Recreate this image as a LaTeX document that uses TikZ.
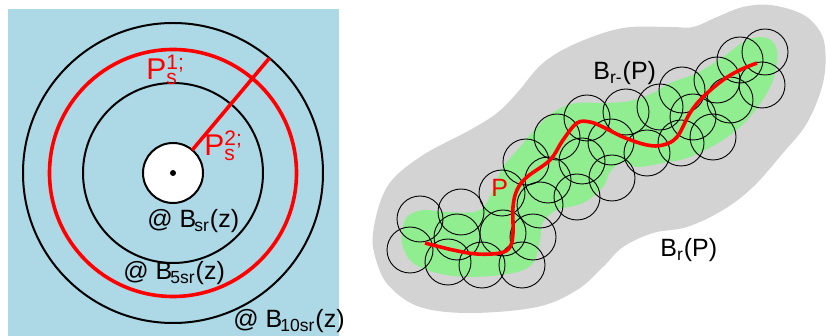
\documentclass[tikz,border=0pt]{standalone}
\usepackage{fontspec}
\setmainfont{Liberation Sans}
\definecolor{skyback}{HTML}{ADD8E6}
\definecolor{hullgray}{HTML}{D3D3D3}
\definecolor{tubegreen}{HTML}{90EE90}

\begin{document}
\begin{tikzpicture}[x={(0.5pt,0)},y={(0,-0.5pt)},
  ring/.style={draw=black,line width=1pt},
  redring/.style={draw=red,line width=1.8pt},
  ball/.style={draw=black,line width=0.45pt},
  lab/.style={font=\fontsize{12.5}{15}\selectfont,inner sep=0pt,anchor=base west},
  redlab/.style={lab,text=red},
  bigredlab/.style={redlab,font=\fontsize{15}{18}\selectfont}]
\useasboundingbox (0,0) rectangle (826,336);
\fill[skyback] (8,9) rectangle (339,336);
\coordinate (z) at (173,173);
\draw[ring] (z) circle[radius=75pt];
\draw[redring] (z) circle[radius=61.75pt];
\draw[ring] (z) circle[radius=45pt];
\draw[ring,fill=white] (z) circle[radius=15pt];
\fill (z) circle[radius=1.5pt];
\coordinate (s0) at ([shift={(50:15pt)}]z);
\coordinate (s1) at ([shift={(50:75pt)}]z);
\draw[red,line width=1.8pt] (s0) -- (s1);
\node[bigredlab] (ps1) at (146,80) {P\rlap{\textsuperscript{1;}}\textsubscript{s}};
\node[bigredlab] (ps2) at (204,156) {P\rlap{\textsuperscript{2;}}\textsubscript{s}};
\node[lab] (bsr) at (147,228) {@ B\kern-1pt\textsubscript{sr}(z)};
\node[lab] (b5sr) at (123,280) {@ B\kern-1pt\textsubscript{5sr}(z)};
\node[lab] (b10sr) at (233,328) {@ B\kern-1pt\textsubscript{10sr}(z)};

\fill[hullgray] plot[smooth cycle,tension=0.6] coordinates {(373,233) (387,187) (420,157) (470,130) (497,113) (517,93) (543,63) (577,43) (623,28) (670,27) (693,27) (717,17) (743,7) (770,5) (800,13) (817,27) (825,47) (823,83) (807,123) (783,153) (753,187) (723,210) (687,227) (653,233) (623,247) (603,267) (577,290) (537,307) (470,313) (420,307) (390,287) (377,263)};
\fill[tubegreen] plot[smooth cycle,tension=0.6] coordinates {(402,233) (407,217) (423,210) (447,212) (480,210) (495,185) (503,167) (520,147) (537,127) (557,110) (577,103) (603,103) (630,101) (653,93) (670,83) (697,73) (723,57) (747,40) (767,38) (777,50) (775,73) (767,93) (747,120) (723,140) (690,157) (663,163) (637,167) (623,162) (610,172) (603,187) (583,203) (557,210) (543,222) (540,240) (533,263) (513,273) (470,277) (437,273) (413,263) (403,247)};
\foreach \cx/\cy in {410/250,420/219,461/212,457/237,448/262,482/265,503/233,502/193,522/265,533/237,526/162,540/205,548/180,557/137,577/197,582/161,587/118,611/142,612/178,626/112,647/153,660/107,681/143,682/90,693/117,713/137,717/80,730/100,740/60,765/52,762/85}
  \draw[ball] (\cx,\cy) circle[radius=11.5pt];
\draw[red,line width=1.8pt] plot[smooth,tension=0.6] coordinates {(425,243) (453,250) (477,254) (500,253) (510,247) (513,233) (513,207) (517,190) (527,177) (550,160) (563,140) (577,123) (590,122) (603,127) (623,137) (647,145) (663,145) (677,137) (690,113) (703,97) (723,80) (740,70) (757,63)};
\node[redlab] (pth) at (491,197) {P};
\node[lab] (brt) at (593,80) {B\textsubscript{r-}(P)};
\node[lab] (br) at (660,257) {B\textsubscript{r}(P)};
\end{tikzpicture}
\end{document}
